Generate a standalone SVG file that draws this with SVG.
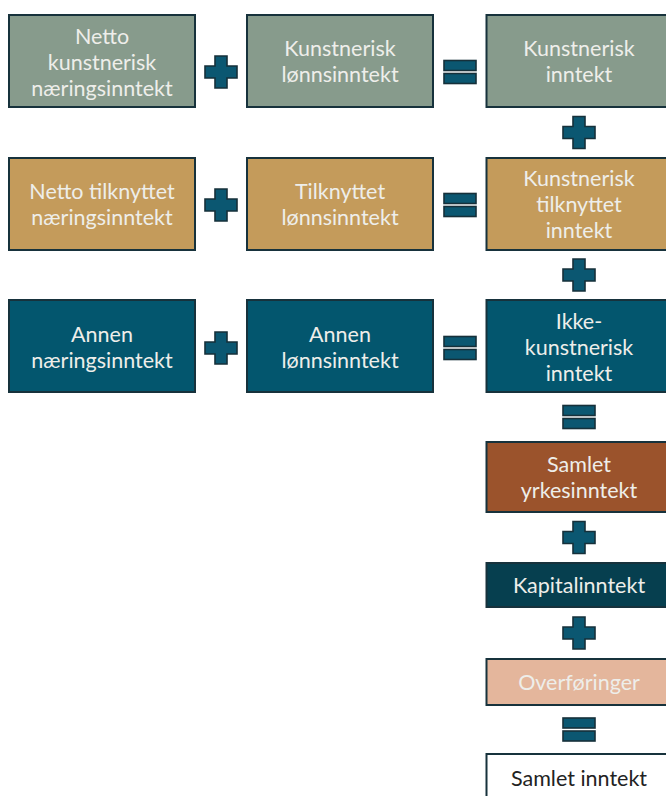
<svg xmlns="http://www.w3.org/2000/svg" xmlns:xlink="http://www.w3.org/1999/xlink" width="666" height="796" viewBox="0 0 666 796">
<style>
.box{stroke:#17323c;stroke-width:2}
.g{fill:#879b8c}.t{fill:#c49b5b}.b{fill:#03566e}.r{fill:#9b532c}.k{fill:#063f4f}.p{fill:#e4b69c}.w{fill:#ffffff}
text{font-family:Lato,"Liberation Sans",sans-serif;font-size:21.5px;text-anchor:middle;fill:#eeeeea}
.dark{fill:#222}
.op{fill:#0b5771;stroke:#16303a;stroke-width:1.6}
</style>
<defs>
<path id="plus" class="op" d="M-6,-16H6V-6H16V6H6V16H-6V6H-16V-6H-6Z"/>
<g id="eq" class="op"><rect x="-16" y="-11.5" width="32" height="10"/><rect x="-16" y="1.5" width="32" height="10"/></g>
</defs>
<g id="connectors">
<use xlink:href="#plus" x="221" y="72"/>
<use xlink:href="#eq" x="460" y="72"/>
<use xlink:href="#plus" x="221" y="205"/>
<use xlink:href="#eq" x="460" y="205"/>
<use xlink:href="#plus" x="221" y="348"/>
<use xlink:href="#eq" x="460" y="348"/>
<use xlink:href="#plus" x="579" y="132.5"/>
<use xlink:href="#plus" x="579" y="275"/>
<use xlink:href="#eq" x="579" y="417"/>
<use xlink:href="#plus" x="579" y="537.5"/>
<use xlink:href="#plus" x="579" y="633"/>
<use xlink:href="#eq" x="579" y="729.5"/>
</g>
<g id="n1"><rect class="box g" x="9" y="15" width="186" height="92"/><text x="102" y="44">Netto</text><text x="102" y="70">kunstnerisk</text><text x="102" y="96">næringsinntekt</text></g>
<g id="n2"><rect class="box g" x="247" y="15" width="186" height="92"/><text x="340" y="56">Kunstnerisk</text><text x="340" y="82">lønnsinntekt</text></g>
<g id="n3"><rect class="box g" x="486.5" y="15" width="190" height="92"/><text x="579" y="56">Kunstnerisk</text><text x="579" y="82">inntekt</text></g>
<g id="n4"><rect class="box t" x="9" y="158" width="186" height="92"/><text x="102" y="199">Netto tilknyttet</text><text x="102" y="225">næringsinntekt</text></g>
<g id="n5"><rect class="box t" x="247" y="158" width="186" height="92"/><text x="340" y="199">Tilknyttet</text><text x="340" y="225">lønnsinntekt</text></g>
<g id="n6"><rect class="box t" x="486.5" y="158" width="190" height="92"/><text x="579" y="186">Kunstnerisk</text><text x="579" y="212">tilknyttet</text><text x="579" y="238">inntekt</text></g>
<g id="n7"><rect class="box b" x="9" y="300" width="186" height="92"/><text x="102" y="342">Annen</text><text x="102" y="368">næringsinntekt</text></g>
<g id="n8"><rect class="box b" x="247" y="300" width="186" height="92"/><text x="340" y="342">Annen</text><text x="340" y="368">lønnsinntekt</text></g>
<g id="n9"><rect class="box b" x="486.5" y="300" width="190" height="92"/><text x="579" y="329">Ikke-</text><text x="579" y="355">kunstnerisk</text><text x="579" y="381">inntekt</text></g>
<g id="n10"><rect class="box r" x="486.5" y="442" width="190" height="70"/><text x="579" y="472">Samlet</text><text x="579" y="498">yrkesinntekt</text></g>
<g id="n11"><rect class="box k" x="486.5" y="563" width="190" height="44"/><text x="579" y="593">Kapitalinntekt</text></g>
<g id="n12"><rect class="box p" x="486.5" y="659" width="190" height="46"/><text x="579" y="690">Overføringer</text></g>
<g id="n13"><rect class="box w" x="486.5" y="754" width="190" height="60"/><text class="dark" x="579" y="786">Samlet inntekt</text></g>
</svg>
